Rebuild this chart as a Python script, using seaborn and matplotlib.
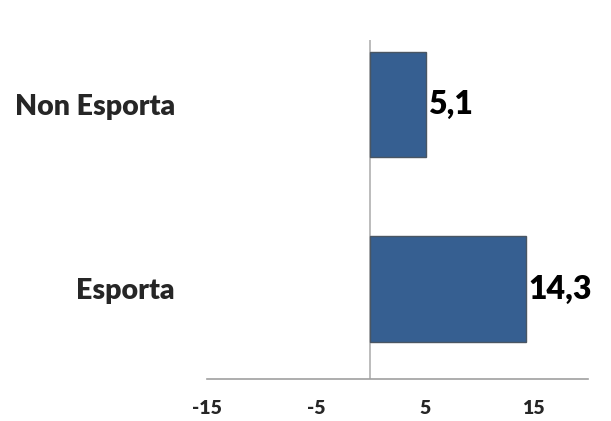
import matplotlib
matplotlib.use("Agg")
import matplotlib.pyplot as plt
import seaborn as sns
import pandas as pd

categories = ["Non Esporta", "Esporta"]
values = [5.1, 14.3]
value_labels = ["5,1", "14,3"]
xticks = [-15, -5, 5, 15]

sns.set_theme(style="white")
plt.rcParams["font.family"] = ["Lato", "DejaVu Sans"]

df = pd.DataFrame({"cat": categories, "val": values})

fig = plt.figure(figsize=(6.11, 4.21), dpi=100)
ax = fig.add_axes([207/611, 1-379/421, (588-207)/611, (379-40)/421])

sns.barplot(data=df, x="val", y="cat", order=categories, color="#365F91",
            saturation=1, width=0.57, edgecolor="#4a5663", linewidth=1, ax=ax)

ax.set_xlim(-15, 20)
ax.set_ylim(1.488, -0.35)
ax.axvline(0, color="#b0b0b0", linewidth=1.2, zorder=0)

for spine in ["left", "top", "right"]:
    ax.spines[spine].set_visible(False)
ax.spines["bottom"].set_color("#a0a0a0")
ax.spines["bottom"].set_linewidth(1.2)

ax.set_xticks(xticks)
ax.set_xticklabels([str(t) for t in xticks], fontsize=14, fontweight="heavy")
ax.tick_params(axis="x", length=0, pad=15)
ax.tick_params(axis="y", length=0, pad=23)
for lbl in ax.get_yticklabels():
    lbl.set_fontsize(20.5)
    lbl.set_fontweight("heavy")
ax.set_xlabel("")
ax.set_ylabel("")

for i, (v, t) in enumerate(zip(values, value_labels)):
    ax.text(v + 0.2, i, t, va="center", ha="left", fontsize=23, fontweight="heavy", color="black")

fig.savefig("out.png", dpi=100)
